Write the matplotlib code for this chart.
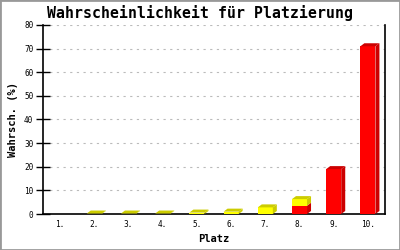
import matplotlib
matplotlib.use("Agg")
import matplotlib.pyplot as plt
from matplotlib.patches import Polygon, Rectangle

places = ["1.", "2.", "3.", "4.", "5.", "6.", "7.", "8.", "9.", "10."]
red_vals = [0, 0, 0, 0, 0, 0, 0, 3.5, 19, 71]
yellow_vals = [0, 0.2, 0.2, 0.2, 0.6, 1.0, 2.8, 2.8, 0, 0]

RED, RED_D = "#ff0000", "#cc0000"
YEL, YEL_D = "#ffff00", "#cccc00"
MONO = "DejaVu Sans Mono"

fig = plt.figure(figsize=(4, 2.5), dpi=100)
fig.patch.set_facecolor("white")
ax = fig.add_axes([43/400, 1 - 214/250, 342/400, 189/250])
ax.set_xlim(0.5, 10.5)
ax.set_ylim(0, 80)

# 3d depth in data units (~4px right, ~3px up)
dx = 4 / 34.2
dy = 3 / (189 / 80)
w = 0.44

def box(x0, y0, y1, front, dark, top):
    ax.add_patch(Rectangle((x0, y0), w, y1 - y0, facecolor=front, edgecolor="none", zorder=3))
    ax.add_patch(Polygon([(x0 + w, y0), (x0 + w + dx, y0 + dy), (x0 + w + dx, y1 + dy), (x0 + w, y1)],
                         closed=True, facecolor=dark, edgecolor="none", zorder=3))
    if top:
        ax.add_patch(Polygon([(x0, y1), (x0 + dx, y1 + dy), (x0 + w + dx, y1 + dy), (x0 + w, y1)],
                             closed=True, facecolor=dark, edgecolor="none", zorder=3))

for i, (r, yv) in enumerate(zip(red_vals, yellow_vals)):
    xc = i + 1
    x0 = xc - w / 2
    if r > 0:
        box(x0, 0, r, RED, RED_D, yv == 0)
    if yv > 0:
        box(x0, r, r + yv, YEL, YEL_D, True)

ax.set_yticks(range(0, 81, 10))
ax.set_xticks(range(1, 11))
ax.set_xticklabels(places)
ax.grid(axis="y", color="#bbbbbb", linestyle=(0, (2, 4)), linewidth=0.8, zorder=1)
ax.set_axisbelow(True)
ax.spines["top"].set_visible(False)
for s in ["left", "right", "bottom"]:
    ax.spines[s].set_linewidth(1.2)
    ax.spines[s].set_color("black")
ax.tick_params(axis="y", direction="inout", length=10, width=1, labelsize=5.6, pad=2)
ax.tick_params(axis="x", length=0, labelsize=5.6, pad=4)
for lbl in ax.get_xticklabels() + ax.get_yticklabels():
    lbl.set_family(MONO)

ax.set_xlabel("Platz", family=MONO, fontweight="bold", fontsize=7.5, labelpad=4)
ax.set_ylabel("Wahrsch. (%)", family=MONO, fontweight="bold", fontsize=7.5, labelpad=4)
fig.text(0.5, 1 - 13/250, "Wahrscheinlichkeit für Platzierung", family=MONO,
         fontweight="bold", fontsize=10.7, ha="center", va="center")

# gray frame around the image
fig.add_artist(Rectangle((0, 0), 1, 1, transform=fig.transFigure, fill=False,
                         edgecolor="#999999", linewidth=2))

fig.savefig("out.png", dpi=100)
